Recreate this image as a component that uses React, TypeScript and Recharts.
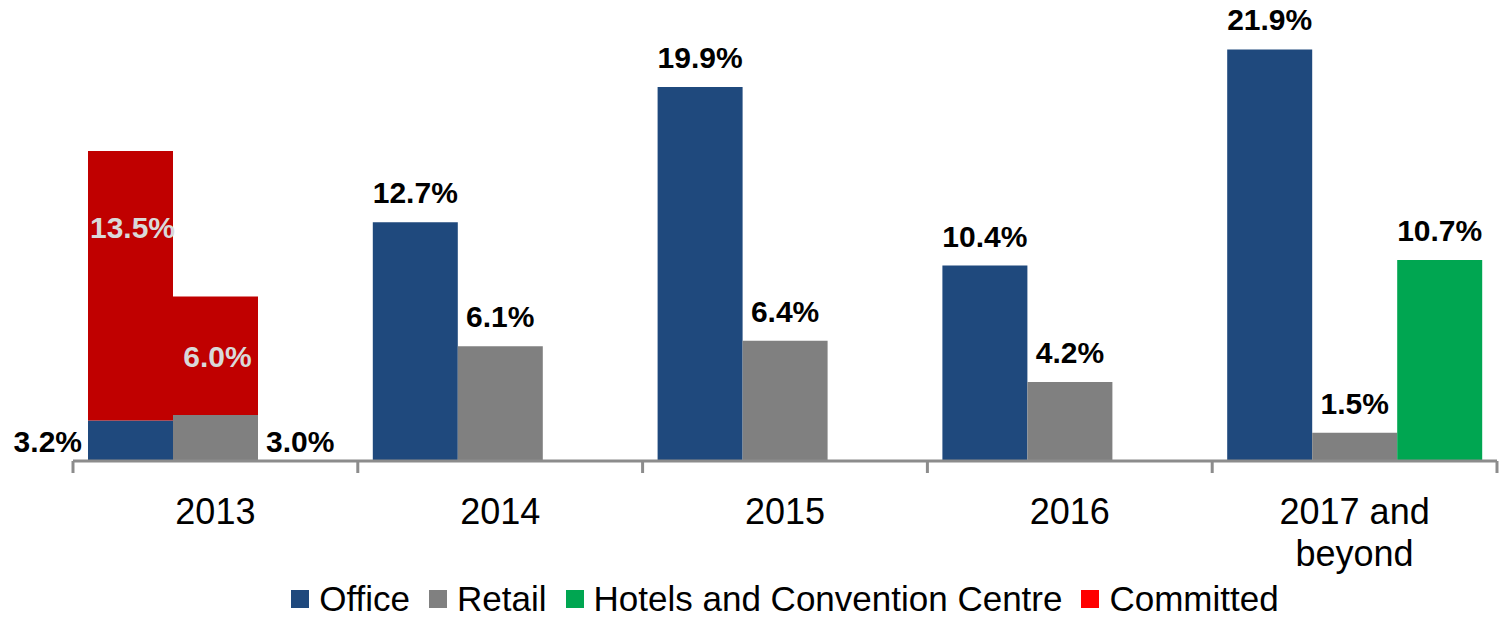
import React from 'react';
import { BarChart, Bar, XAxis, YAxis, LabelList } from 'recharts';

const categories = ['2013', '2014', '2015', '2016', '2017 and beyond'];

// bar heights as drawn (2013 bars are drawn shorter than their printed labels)
const officeValues = [2.15, 12.7, 19.9, 10.4, 21.9];
const retailValues = [2.45, 6.1, 6.4, 4.2, 1.5];
const hotelValues = [null, null, null, null, 10.7];
const committedOfficeValues = [14.35, null, null, null, null];
const committedRetailValues = [6.3, null, null, null, null];

// printed data labels
const officeLabels = [3.2, 12.7, 19.9, 10.4, 21.9];
const retailLabels = [3.0, 6.1, 6.4, 4.2, 1.5];
const hotelLabels = [null, null, null, null, 10.7];
const committedOfficeLabels = [13.5, null, null, null, null];
const committedRetailLabels = [6.0, null, null, null, null];

const legendItems = [
  { name: 'Office', color: '#1F497D' },
  { name: 'Retail', color: '#808080' },
  { name: 'Hotels and Convention Centre', color: '#00A651' },
  { name: 'Committed', color: '#FF0000' },
];

const data = categories.map((name, i) => ({
  name,
  office: officeValues[i],
  retail: retailValues[i],
  hotels: hotelValues[i],
  committedOffice: committedOfficeValues[i],
  committedRetail: committedRetailValues[i],
  officeLabel: officeLabels[i],
  retailLabel: retailLabels[i],
  hotelLabel: hotelLabels[i],
  committedOfficeLabel: committedOfficeLabels[i],
  committedRetailLabel: committedRetailLabels[i],
}));

const W = 1499;
const H = 620;
const LEFT = 73;
const RIGHT = 2;
const AXIS_Y = 461;
const BAND = (W - LEFT - RIGHT) / categories.length;
const FONT = '"Liberation Sans", Arial, sans-serif';
const AXIS_GRAY = '#8c8c8c';

const fmt = (v: number) => `${v.toFixed(1)}%`;

// greedy word wrap by character count, like the category cells in the original
const wrap = (s: string, maxChars = 12) => {
  const lines: string[] = [];
  let cur = '';
  s.split(' ').forEach((w) => {
    const next = cur ? `${cur} ${w}` : w;
    if (next.length > maxChars && cur) {
      lines.push(cur);
      cur = w;
    } else {
      cur = next;
    }
  });
  if (cur) lines.push(cur);
  return lines;
};

// labels above bars, or beside them when a committed block sits on top
const makeTopLabel = (side?: 'left' | 'right') => (props: any) => {
  const { x, y, width, height, value, index } = props;
  if (value == null || x == null) return null;
  const hasCommitted = committedOfficeValues[index] != null;
  if (side && hasCommitted) {
    const bottom = Number(y) + Number(height);
    return (
      <text
        x={side === 'left' ? x - 6 : x + width + 8}
        y={bottom - 9}
        textAnchor={side === 'left' ? 'end' : 'start'}
        fontFamily={FONT}
        fontWeight="bold"
        fontSize={30}
        fill="#000"
      >
        {fmt(value)}
      </text>
    );
  }
  return (
    <text
      x={x + width / 2}
      y={y - 19}
      textAnchor="middle"
      fontFamily={FONT}
      fontWeight="bold"
      fontSize={30}
      fill="#000"
    >
      {fmt(value)}
    </text>
  );
};

const renderInsideLabel = (props: any) => {
  const { x, y, width, height, value } = props;
  if (value == null || x == null) return null;
  const dy = Math.min(height / 2 + 11, 87);
  return (
    <text
      x={x + width / 2 + 2}
      y={y + dy}
      textAnchor="middle"
      fontFamily={FONT}
      fontWeight="bold"
      fontSize={30}
      fill="#D9D9D9"
    >
      {fmt(value)}
    </text>
  );
};

const CategoryTick = (props: any) => {
  const { x, payload, index } = props;
  const left = x - BAND / 2;
  const right = x + BAND / 2;
  const lines = wrap(String(payload.value));
  return (
    <g>
      {index === 0 && (
        <line x1={left} x2={left} y1={AXIS_Y} y2={AXIS_Y + 12} stroke={AXIS_GRAY} strokeWidth={3} />
      )}
      <line x1={right} x2={right} y1={AXIS_Y} y2={AXIS_Y + 12} stroke={AXIS_GRAY} strokeWidth={3} />
      <text x={x} y={524} textAnchor="middle" fontFamily={FONT} fontSize={36} fill="#000">
        {lines.map((l, i) => (
          <tspan key={i} x={x} dy={i === 0 ? 0 : 42}>
            {l}
          </tspan>
        ))}
      </text>
    </g>
  );
};

export default function App() {
  return (
    <div style={{ position: 'absolute', left: 0, top: 0, width: W, height: H, background: '#fff' }}>
      <BarChart
        width={W}
        height={H}
        data={data}
        margin={{ top: 10, right: RIGHT, left: LEFT, bottom: 0 }}
        barCategoryGap={15}
        barGap={0}
      >
        <YAxis hide domain={[0, 24]} />
        <XAxis
          dataKey="name"
          height={H - AXIS_Y}
          interval={0}
          tickLine={false}
          axisLine={{ stroke: AXIS_GRAY, strokeWidth: 3 }}
          tick={<CategoryTick />}
        />
        <Bar dataKey="office" stackId="a" fill="#1F497D" isAnimationActive={false}>
          <LabelList dataKey="officeLabel" content={makeTopLabel('left')} />
        </Bar>
        <Bar dataKey="committedOffice" stackId="a" fill="#C00000" isAnimationActive={false}>
          <LabelList dataKey="committedOfficeLabel" content={renderInsideLabel} />
        </Bar>
        <Bar dataKey="retail" stackId="b" fill="#808080" isAnimationActive={false}>
          <LabelList dataKey="retailLabel" content={makeTopLabel('right')} />
        </Bar>
        <Bar dataKey="committedRetail" stackId="b" fill="#C00000" isAnimationActive={false}>
          <LabelList dataKey="committedRetailLabel" content={renderInsideLabel} />
        </Bar>
        <Bar dataKey="hotels" stackId="c" fill="#00A651" isAnimationActive={false}>
          <LabelList dataKey="hotelLabel" content={makeTopLabel()} />
        </Bar>
      </BarChart>
      <div
        style={{
          position: 'absolute',
          left: LEFT,
          width: W - LEFT - RIGHT,
          top: 580,
          height: 38,
          display: 'flex',
          justifyContent: 'center',
          alignItems: 'center',
          fontFamily: FONT,
          fontSize: 35,
          color: '#000',
          whiteSpace: 'nowrap',
        }}
      >
        {legendItems.map((item, i) => (
          <div
            key={item.name}
            style={{ display: 'flex', alignItems: 'center', marginLeft: i === 0 ? 0 : 19 }}
          >
            <span
              style={{ display: 'inline-block', width: 18, height: 18, background: item.color, marginRight: 10 }}
            />
            <span>{item.name}</span>
          </div>
        ))}
      </div>
    </div>
  );
}
